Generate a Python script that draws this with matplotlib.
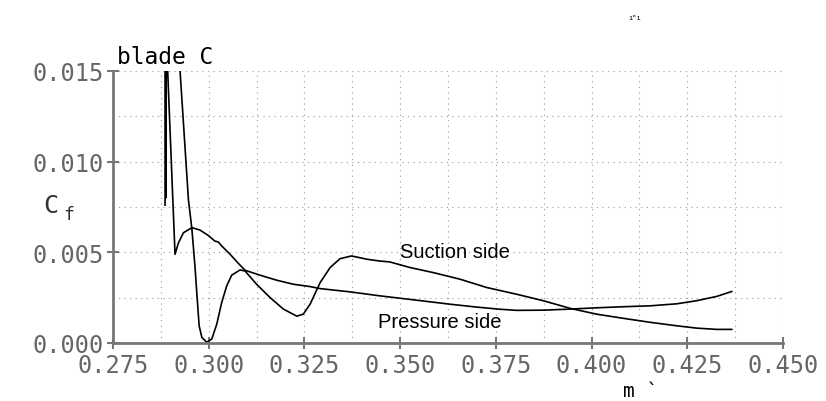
import matplotlib.pyplot as plt
from matplotlib.ticker import MultipleLocator, FormatStrFormatter

# suction side skin friction along m'
suction_m = [0.2922, 0.2925, 0.2947, 0.2956, 0.2964, 0.2970, 0.2975, 0.2982, 0.2995,
             0.3008, 0.3021, 0.3034, 0.3047, 0.3060, 0.3082, 0.3095, 0.3125, 0.3160,
             0.3195, 0.3230, 0.3247, 0.3265, 0.3291, 0.3317, 0.3343, 0.3373, 0.3413,
             0.3447, 0.3473, 0.3526, 0.3587, 0.3656, 0.3726, 0.3804, 0.3874, 0.3944,
             0.4013, 0.4083, 0.4153, 0.4222, 0.4274, 0.4327, 0.4366]
suction_cf = [0.0170, 0.01505, 0.0079, 0.0063, 0.00425, 0.00242, 0.00095, 0.00031, 0.00004,
              0.00022, 0.00104, 0.00224, 0.00315, 0.00374, 0.00403, 0.00397, 0.00324, 0.00251,
              0.00187, 0.00148, 0.00159, 0.00215, 0.00333, 0.00416, 0.00465, 0.00480, 0.00462,
              0.00452, 0.00447, 0.00416, 0.00388, 0.00352, 0.00306, 0.00269, 0.00233, 0.00191,
              0.00159, 0.00136, 0.00114, 0.00095, 0.00082, 0.00075, 0.00075]

# pressure side skin friction along m'
pressure_m = [0.28860, 0.28870, 0.28880, 0.28890, 0.2912, 0.2921, 0.2934, 0.2956,
              0.2977, 0.2999, 0.3016, 0.3025, 0.3034, 0.3056, 0.3077, 0.3095, 0.3134,
              0.3178, 0.3221, 0.3265, 0.3291, 0.3369, 0.3447, 0.3543, 0.3630, 0.3700,
              0.3761, 0.3804, 0.3874, 0.3944, 0.4013, 0.4083, 0.4153, 0.4222, 0.4274,
              0.4327, 0.4366]
pressure_cf = [0.0076, 0.0170, 0.0080, 0.0170, 0.00489, 0.00553, 0.00608, 0.00636,
               0.00623, 0.00593, 0.00562, 0.00557, 0.00535, 0.00489, 0.00440, 0.00401, 0.00374,
               0.00346, 0.00324, 0.00311, 0.00300, 0.00282, 0.00260, 0.00236, 0.00214, 0.00198,
               0.00186, 0.00180, 0.00181, 0.00187, 0.00194, 0.00200, 0.00205, 0.00216, 0.00233,
               0.00257, 0.00284]

grey = '#777777'
mono = 'DejaVu Sans Mono'

fig = plt.figure(figsize=(8.26, 4.02), dpi=100)
ax = fig.add_axes([0.1368, 0.1443, 0.8112, 0.6766])

ax.plot(suction_m, suction_cf, color='black', lw=1.2)
ax.plot(pressure_m, pressure_cf, color='black', lw=1.2)

ax.set_xlim(0.275, 0.450)
ax.set_ylim(0.0, 0.015)
ax.xaxis.set_major_locator(MultipleLocator(0.025))
ax.xaxis.set_minor_locator(MultipleLocator(0.0125))
ax.yaxis.set_major_locator(MultipleLocator(0.005))
ax.yaxis.set_minor_locator(MultipleLocator(0.0025))
ax.xaxis.set_major_formatter(FormatStrFormatter('%.3f'))
ax.yaxis.set_major_formatter(FormatStrFormatter('%.3f'))

ax.grid(True, which='both', color='#999999', lw=0.8, ls=(0, (1, 4)))
for s in ['top', 'right']:
    ax.spines[s].set_visible(False)
for s in ['left', 'bottom']:
    ax.spines[s].set_color(grey)
    ax.spines[s].set_linewidth(2)

ax.tick_params(which='major', direction='inout', length=8, width=1.5, color=grey,
               labelcolor='#666666', labelsize=17, pad=3)
ax.tick_params(which='minor', length=0)
for lab in ax.get_xticklabels() + ax.get_yticklabels():
    lab.set_family(mono)

ax.text(0.3642, 0.00505, 'Suction side', family='Liberation Sans', fontsize=14.5,
        ha='center', va='center')
ax.text(0.3604, 0.0012, 'Pressure side', family='Liberation Sans', fontsize=14.5,
        ha='center', va='center')

fig.text(0.1416, 0.856, 'blade C', family=mono, fontsize=16.5, va='center')
fig.text(0.052, 0.488, 'C', family=mono, fontsize=18, color='#333333', va='center')
fig.text(0.077, 0.465, 'f', family=mono, fontsize=13, color='#333333', va='center')
fig.text(0.775, 0.025, 'm `', family=mono, fontsize=14, ha='center', va='center')
fig.text(0.769, 0.955, '\u0131"\u0131', family=mono, fontsize=5, ha='center', va='center')

plt.savefig('out.png')
